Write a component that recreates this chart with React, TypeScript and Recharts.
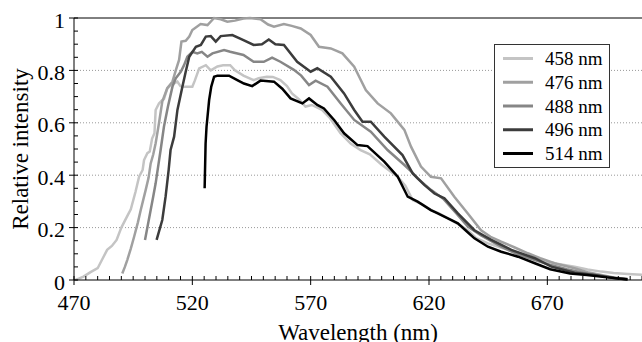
import React from 'react';
import { Legend, Line, LineChart, ReferenceLine, XAxis, YAxis } from 'recharts';

// Emission spectra (wavelength in nm, relative intensity)
const wl458 = [470.5, 472, 474, 477, 480, 482, 484, 486, 488, 490, 492, 494, 496, 497.5, 499, 499.6, 501, 502, 503, 504, 504.5, 505.9, 507.3, 508, 509.4, 511, 513.7, 515, 516.5, 520, 521, 522.9, 525.7, 527.8, 530.6, 533, 536, 538, 541.6, 545.9, 548, 551.5, 554, 557.2, 560, 562.1, 565, 567.8, 570.5, 574.8, 578, 582.6, 587, 591.1, 595, 600, 606.7, 610, 613.1, 617, 620.8, 624, 628, 632, 636.4, 640, 644.9, 650, 656.2, 662, 667.5, 674, 681.5, 687, 692.8, 698, 704, 710];
const int458 = [0, 0.005, 0.013, 0.03, 0.045, 0.08, 0.115, 0.13, 0.153, 0.2, 0.235, 0.27, 0.337, 0.394, 0.42, 0.458, 0.484, 0.49, 0.54, 0.56, 0.649, 0.674, 0.687, 0.69, 0.73, 0.745, 0.757, 0.74, 0.738, 0.738, 0.76, 0.808, 0.82, 0.8, 0.815, 0.82, 0.82, 0.8, 0.78, 0.763, 0.77, 0.776, 0.775, 0.763, 0.74, 0.712, 0.69, 0.662, 0.668, 0.649, 0.62, 0.56, 0.52, 0.496, 0.48, 0.44, 0.394, 0.36, 0.305, 0.29, 0.267, 0.255, 0.235, 0.215, 0.19, 0.16, 0.14, 0.125, 0.108, 0.09, 0.076, 0.062, 0.051, 0.04, 0.032, 0.027, 0.023, 0.02];

const wl476 = [490.4, 491.5, 492.5, 494, 495.4, 497, 498.2, 500.3, 501.5, 502.4, 503.5, 504.5, 505.9, 507.3, 509.4, 511.6, 513, 514.4, 515.4, 517.2, 518.7, 520, 523.5, 526.4, 529.2, 532, 534.8, 538, 541.6, 544.4, 548.8, 552, 554.5, 558.7, 562, 565.8, 570, 573.5, 578.5, 583.4, 588.4, 590.5, 593.3, 598.3, 603.9, 609.6, 612.4, 616.6, 620.8, 625.1, 630.7, 636.4, 642, 646, 650.5, 656, 661.8, 667, 673, 681.5, 687, 692.8, 698, 704];
const int476 = [0.025, 0.05, 0.076, 0.12, 0.165, 0.22, 0.267, 0.344, 0.39, 0.445, 0.48, 0.522, 0.598, 0.681, 0.732, 0.757, 0.8, 0.84, 0.91, 0.913, 0.929, 0.954, 0.977, 0.973, 1.0, 0.995, 0.986, 0.99, 0.998, 1.0, 0.995, 0.975, 0.967, 0.977, 0.97, 0.96, 0.935, 0.89, 0.884, 0.865, 0.814, 0.776, 0.725, 0.674, 0.636, 0.573, 0.509, 0.433, 0.394, 0.388, 0.318, 0.254, 0.19, 0.165, 0.146, 0.125, 0.102, 0.083, 0.064, 0.045, 0.03, 0.019, 0.01, 0.004];

const wl488 = [500, 501, 502.4, 503.5, 504.5, 505.5, 506.6, 508, 509.7, 511.6, 513, 515.1, 516.5, 517.9, 520, 522.1, 524, 526.4, 528.5, 533.4, 536, 541.6, 545.9, 550.2, 553.7, 557.2, 562.9, 566, 569.3, 572.1, 577.1, 582.7, 588.4, 595.4, 602.5, 609.6, 613, 615.2, 620.8, 626, 631, 636.4, 642, 650.5, 657, 664.7, 671, 678.2, 685, 692.8, 698, 704];
const int488 = [0.153, 0.2, 0.267, 0.32, 0.369, 0.43, 0.496, 0.585, 0.662, 0.738, 0.77, 0.795, 0.82, 0.852, 0.871, 0.865, 0.871, 0.852, 0.865, 0.878, 0.871, 0.859, 0.833, 0.833, 0.849, 0.833, 0.802, 0.78, 0.744, 0.761, 0.738, 0.674, 0.611, 0.566, 0.496, 0.439, 0.41, 0.388, 0.344, 0.31, 0.26, 0.204, 0.17, 0.127, 0.1, 0.076, 0.058, 0.041, 0.028, 0.015, 0.008, 0.003];

const wl496 = [504.9, 507.3, 508.7, 510, 510.8, 512.3, 513.7, 515.8, 517.2, 518.7, 521.5, 523.6, 525.7, 527.8, 529.9, 532, 536.9, 541.6, 545.9, 549.4, 552.3, 555.1, 558.7, 564.3, 570, 572.8, 578.5, 584.1, 588.4, 591.9, 595.4, 601.1, 608.8, 613.1, 618, 622.3, 626.5, 632.2, 639.2, 646.3, 654.8, 664.7, 671.7, 681.5, 690, 699.9, 704];
const int496 = [0.153, 0.229, 0.318, 0.42, 0.496, 0.547, 0.649, 0.738, 0.795, 0.852, 0.89, 0.897, 0.929, 0.931, 0.91, 0.931, 0.935, 0.916, 0.897, 0.9, 0.918, 0.9, 0.897, 0.833, 0.795, 0.808, 0.776, 0.712, 0.649, 0.604, 0.604, 0.547, 0.477, 0.407, 0.363, 0.33, 0.312, 0.254, 0.19, 0.153, 0.115, 0.083, 0.051, 0.028, 0.019, 0.006, 0.002];

const wl514 = [525.2, 525.6, 526, 527.1, 528, 529.2, 530.6, 535.5, 539, 541.8, 545.3, 548.8, 554.5, 558, 561.5, 566.5, 569.3, 572.8, 575.6, 580, 584.1, 589.8, 594, 601.1, 606.8, 611, 615.2, 620.8, 623.7, 628, 632.2, 636, 639.2, 644.9, 650.5, 657.6, 664.7, 671.2, 679.6, 686.7, 695.2, 703.7];
const int514 = [0.35, 0.52, 0.585, 0.687, 0.738, 0.776, 0.78, 0.78, 0.763, 0.75, 0.74, 0.761, 0.757, 0.73, 0.693, 0.674, 0.693, 0.668, 0.655, 0.61, 0.56, 0.515, 0.511, 0.452, 0.394, 0.318, 0.299, 0.267, 0.254, 0.235, 0.216, 0.185, 0.159, 0.127, 0.108, 0.089, 0.064, 0.041, 0.025, 0.019, 0.01, 0.003];

// Axis ticks
const xTicks = [470, 475, 480, 485, 490, 495, 500, 505, 510, 515, 520, 525, 530, 535, 540, 545, 550, 555, 560, 565, 570, 575, 580, 585, 590, 595, 600, 605, 610, 615, 620, 625, 630, 635, 640, 645, 650, 655, 660, 665, 670, 675, 680, 685, 690, 695, 700, 705, 710];
const xLabels = [470, 520, 570, 620, 670];
const yTicks = [0, 0.05, 0.1, 0.15, 0.2, 0.25, 0.3, 0.35, 0.4, 0.45, 0.5, 0.55, 0.6, 0.65, 0.7, 0.75, 0.8, 0.85, 0.9, 0.95, 1];
const yLabels = [0, 0.2, 0.4, 0.6, 0.8, 1];
const gridValues = [0.2, 0.4, 0.6, 0.8];

const FONT = '"Liberation Serif", "DejaVu Serif", serif';

const toPoints = (wl: number[], val: number[]) => wl.map((nm, i) => ({ nm, v: val[i] }));

const SERIES = [
  { name: '458 nm', color: '#c4c4c4', data: toPoints(wl458, int458) },
  { name: '476 nm', color: '#a0a0a0', data: toPoints(wl476, int476) },
  { name: '488 nm', color: '#868686', data: toPoints(wl488, int488) },
  { name: '496 nm', color: '#3c3c3c', data: toPoints(wl496, int496) },
  { name: '514 nm', color: '#000000', data: toPoints(wl514, int514) },
];

const XTick = ({ x, y, payload }: any) => {
  const major = xLabels.includes(payload.value);
  return (
    <g>
      <line x1={x} x2={x} y1={y - 4} y2={major ? y + 5 : y} stroke="#000" />
      {major && (
        <text x={x} y={y + 29.5} textAnchor="middle" fontSize={22} style={{ fontFamily: FONT }} fill="#000">
          {payload.value}
        </text>
      )}
    </g>
  );
};

const YTick = ({ x, y, payload }: any) => {
  const major = yLabels.includes(payload.value);
  return (
    <g>
      <line x1={major ? x - 5 : x} x2={x + 4} y1={y} y2={y} stroke="#000" />
      {major && (
        <text x={x - 9} y={y + 9.5} textAnchor="end" fontSize={22} style={{ fontFamily: FONT }} fill="#000">
          {payload.value}
        </text>
      )}
    </g>
  );
};

// Boxed legend in the upper right of the plot
const renderLegend = () => (
  <svg width={117} height={125} style={{ display: 'block' }}>
    <rect x={0.5} y={0.5} width={115} height={123} fill="#fff" stroke="#333" />
    {SERIES.map((s, i) => {
      const cy = 14.5 + i * 23.75;
      return (
        <g key={s.name}>
          <line x1={9} x2={39} y1={cy} y2={cy} stroke={s.color} strokeWidth={3} />
          <text x={51} y={cy + 6.5} fontSize={19} style={{ fontFamily: FONT }} fill="#000">
            {s.name}
          </text>
        </g>
      );
    })}
  </svg>
);

export default function App() {
  return (
    <div style={{ position: 'absolute', left: 0, top: 0, background: '#fff', fontFamily: FONT }}>
      <LineChart width={642} height={342} margin={{ top: 18, right: 0, bottom: 0, left: 0 }}>
        <XAxis
          type="number"
          dataKey="nm"
          domain={[470, 710]}
          ticks={xTicks}
          interval={0}
          tick={<XTick />}
          tickSize={0}
          tickMargin={0}
          tickLine={false}
          axisLine={{ stroke: '#000' }}
          height={62}
          allowDataOverflow
          label={{
            value: 'Wavelength (nm)',
            position: 'insideBottom',
            offset: 2,
            style: { fontSize: 23, fontFamily: FONT, fill: '#000' },
          }}
        />
        <YAxis
          type="number"
          domain={[0, 1]}
          ticks={yTicks}
          interval={0}
          tick={<YTick />}
          tickSize={0}
          tickMargin={0}
          tickLine={false}
          axisLine={{ stroke: '#000' }}
          width={74}
          label={{
            value: 'Relative intensity',
            angle: -90,
            position: 'insideLeft',
            offset: 20,
            style: { textAnchor: 'middle', fontSize: 23, fontFamily: FONT, fill: '#000' },
          }}
        />
        {gridValues.map((g) => (
          <ReferenceLine key={g} y={g} stroke="#999" strokeDasharray="1 2" />
        ))}
        <ReferenceLine y={1} stroke="#000" />
        {SERIES.map((s) => (
          <Line
            key={s.name}
            data={s.data}
            dataKey="v"
            name={s.name}
            type="linear"
            stroke={s.color}
            strokeWidth={2.5}
            dot={false}
            activeDot={false}
            isAnimationActive={false}
          />
        ))}
        <Legend
          layout="vertical"
          align="center"
          verticalAlign="middle"
          content={renderLegend}
          wrapperStyle={{ position: 'absolute', left: 494, top: 44, width: 117, height: 125 }}
        />
      </LineChart>
    </div>
  );
}
